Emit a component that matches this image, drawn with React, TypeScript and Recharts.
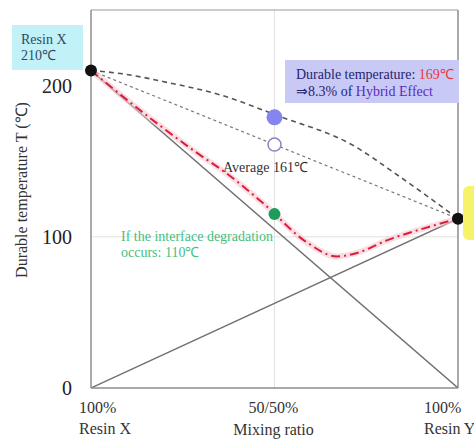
import {
  LineChart,
  Line,
  XAxis,
  YAxis,
  ReferenceLine,
  ReferenceDot,
} from "recharts";

// mixing ratio, % of resin Y
const ratioTicks = [0, 50, 100];
const tempTicks = [0, 100, 200];

const xOnlyRatio = [0, 100];
const xOnlyTemp = [210, 0];
const yOnlyRatio = [0, 100];
const yOnlyTemp = [0, 112];
const averageRatio = [0, 100];
const averageTemp = [210, 112];

const hybridRatio = [0, 8, 21, 35, 51, 71, 84, 100];
const hybridTemp = [210, 208, 202, 194, 180, 161, 140, 112];

const degradedRatio = [0, 5, 18, 28, 38, 47, 59, 67, 72, 81, 92, 100];
const degradedTemp = [210, 200, 175, 157, 140, 122, 96, 87, 89, 98, 106.5, 112];

const endRatio = [0, 100];
const endTemp = [210, 112];
const midRatio = 50;
const hybridMid = 179;
const averageMid = 161;
const degradedMid = 115;

const toRows = (xs: number[], ys: number[]) => xs.map((x, i) => ({ x, y: ys[i] }));

const xTickText: Record<number, string[]> = {
  0: ["100%", "Resin X"],
  50: ["50/50%"],
  100: ["100%", "Resin Y"],
};

const serif = "'Liberation Serif', 'Times New Roman', serif";

function RatioTick(props: any) {
  const { x, y, payload } = props;
  const lines = xTickText[payload.value] || [];
  if (payload.value === 50) {
    return (
      <g fontFamily={serif} fontSize={16} fill="#333">
        <text x={x - 1} y={y + 25} textAnchor="middle">{lines[0]}</text>
        <text x={x - 1} y={y + 47} textAnchor="middle">Mixing ratio</text>
      </g>
    );
  }
  const dx = payload.value === 0 ? -12 : -34;
  return (
    <g fontFamily={serif} fontSize={16} fill="#333">
      <text x={x + dx} y={y + 25}>{lines[0]}</text>
      <text x={x + dx} y={y + 46}>{lines[1]}</text>
    </g>
  );
}

export default function App() {
  return (
    <div style={{ position: "relative", width: 474, height: 439, overflow: "hidden", background: "#fff" }}>
      <style>{"body{margin:0}"}</style>
      <LineChart
        width={474}
        height={439}
        margin={{ top: 10, right: 16, bottom: 21, left: 0 }}
      >
        <XAxis
          type="number"
          dataKey="x"
          domain={[0, 100]}
          ticks={ratioTicks}
          tick={<RatioTick />}
          height={30}
          tickSize={0}
          tickMargin={0}
          tickLine={false}
          axisLine={{ stroke: "#8c8c8c", strokeWidth: 1.5 }}
          allowDataOverflow
        />
        <YAxis
          type="number"
          domain={[0, 250]}
          ticks={tempTicks}
          width={91}
          tickSize={0}
          tickMargin={19}
          tickLine={false}
          axisLine={{ stroke: "#8c8c8c", strokeWidth: 1.5 }}
          tick={{ fontFamily: serif, fontSize: 20, fill: "#222" }}
          allowDataOverflow
        />
        <ReferenceLine y={100} stroke="#e2e2e2" />
        <ReferenceLine x={50} stroke="#e2e2e2" />
        <ReferenceLine y={250} stroke="#9a9a9a" strokeWidth={1.2} />
        <ReferenceLine x={100} stroke="#8c8c8c" strokeWidth={1.5} />

        <Line data={toRows(xOnlyRatio, xOnlyTemp)} dataKey="y" type="linear" stroke="#707070" strokeWidth={1.4} dot={false} isAnimationActive={false} />
        <Line data={toRows(yOnlyRatio, yOnlyTemp)} dataKey="y" type="linear" stroke="#707070" strokeWidth={1.4} dot={false} isAnimationActive={false} />
        <Line data={toRows(averageRatio, averageTemp)} dataKey="y" type="linear" stroke="#777" strokeWidth={1.2} strokeDasharray="3 3" dot={false} isAnimationActive={false} />
        <Line data={toRows(hybridRatio, hybridTemp)} dataKey="y" type="monotone" stroke="#555" strokeWidth={1.6} strokeDasharray="5 4" dot={false} isAnimationActive={false} />
        <Line data={toRows(degradedRatio, degradedTemp)} dataKey="y" type="monotone" stroke="#f8c8d2" strokeWidth={6} strokeOpacity={0.6} dot={false} isAnimationActive={false} />
        <Line data={toRows(degradedRatio, degradedTemp)} dataKey="y" type="monotone" stroke="#d81e3c" strokeWidth={2} strokeDasharray="9 4 2 4" dot={false} isAnimationActive={false} />

        <ReferenceDot x={midRatio} y={hybridMid} r={8} fill="#8585f0" stroke="none" />
        <ReferenceDot x={midRatio} y={averageMid} r={6.5} fill="#fff" stroke="#8f80c4" strokeWidth={1.5} />
        <ReferenceDot x={midRatio} y={degradedMid} r={6} fill="#1e9c5a" stroke="none" />
        <ReferenceDot x={endRatio[0]} y={endTemp[0]} r={6} fill="#111" stroke="none" />
        <ReferenceDot x={endRatio[1]} y={endTemp[1]} r={6} fill="#111" stroke="none" />
      </LineChart>

      <svg
        width={474}
        height={439}
        style={{ position: "absolute", left: 0, top: 0, pointerEvents: "none" }}
        fontFamily={serif}
      >
        <rect x={12} y={25} width={71} height={45} fill="#c2f1f8" />
        <text x={21} y={44} fontSize={14} fill="#2e4a64">Resin X</text>
        <text x={21} y={60} fontSize={14} fill="#2e4a64">210℃</text>

        <rect x={285} y={60} width={174} height={43} fill="#c9c9f6" />
        <text x={296} y={79} fontSize={14} fill="#24246e">
          Durable temperature: <tspan fill="#e83838">169℃</tspan>
        </text>
        <text x={296} y={96} fontSize={14} fill="#24246e">
          ⇒8.3% of <tspan fill="#5a2cb8">Hybrid Effect</tspan>
        </text>

        <text x={223} y={172} fontSize={14} fill="#333">Average 161℃</text>

        <text x={121} y={241} fontSize={14} fill="#46bf80">If the interface degradation</text>
        <text x={121} y={257} fontSize={14} fill="#46bf80">occurs: 110℃</text>

        <rect x={463} y={186} width={24} height={54} rx={6} fill="#f6f36a" />

        <text
          x={21}
          y={190}
          fontSize={16}
          fill="#333"
          textAnchor="middle"
          transform="rotate(-90, 21, 190)"
          dominantBaseline="central"
        >
          Durable temperature T (℃)
        </text>
      </svg>
    </div>
  );
}
